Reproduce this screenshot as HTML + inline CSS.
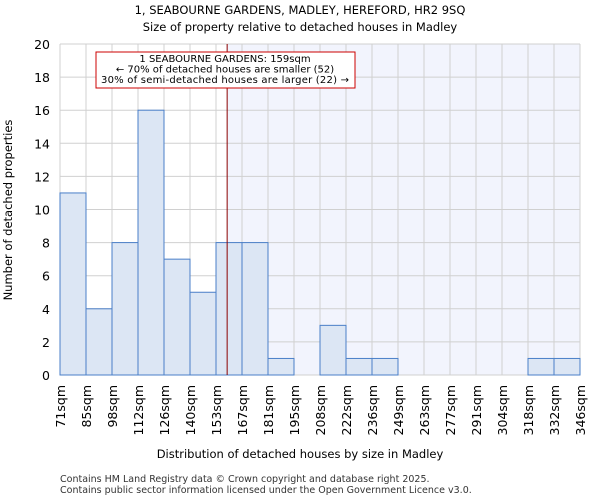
<!DOCTYPE html>
<html><head><meta charset="utf-8"><style>
body{margin:0;background:#fff;font-family:"DejaVu Sans","Liberation Sans",sans-serif;}
</style></head><body>
<svg width="600" height="500" xmlns="http://www.w3.org/2000/svg" font-family="DejaVu Sans, Liberation Sans, sans-serif">
<text x="300" y="14" text-anchor="middle" font-size="11.5">1, SEABOURNE GARDENS, MADLEY, HEREFORD, HR2 9SQ</text>
<text x="300" y="31" text-anchor="middle" font-size="11.5">Size of property relative to detached houses in Madley</text>
<g id="plot"></g>
<text x="300" y="458" text-anchor="middle" font-size="11.5">Distribution of detached houses by size in Madley</text>
<text x="12" y="210" text-anchor="middle" font-size="11.5" transform="rotate(-90 12 210)">Number of detached properties</text>
<text x="60" y="482" font-size="9.5" fill="#333">Contains HM Land Registry data © Crown copyright and database right 2025.</text>
<text x="60" y="493" font-size="9.5" fill="#333">Contains public sector information licensed under the Open Government Licence v3.0.</text>
</svg>
<script>
const edges=[71,85,98,112,126,140,153,167,181,195,208,222,236,249,263,277,291,304,318,332,346];
const counts=[11,4,8,16,7,5,8,8,1,0,3,1,1,0,0,0,0,0,1,1];
const yTicks=[0,2,4,6,8,10,12,14,16,18,20];
const markerValue=159;
const NS="http://www.w3.org/2000/svg";
const X0=60,X1=580,Y0=375,Y1=44;
const bw=(X1-X0)/counts.length;
function xi(i){return X0+i*bw;}
function xv(v){for(let i=0;i<edges.length-1;i++){if(v>=edges[i]&&v<=edges[i+1])return xi(i)+bw*(v-edges[i])/(edges[i+1]-edges[i]);}return X1;}
function y(v){return Y0-(Y0-Y1)*v/20;}
const g=document.getElementById('plot');
function mk(t,a){const e=document.createElementNS(NS,t);for(const k in a)e.setAttribute(k,a[k]);g.appendChild(e);return e;}
const mx=xv(markerValue);
let e=mk('rect',{x:mx,y:Y1,width:X1-mx,height:Y0-Y1,fill:'#f2f4fd'});


yTicks.forEach(t=>{
 let l=mk('line',{x1:X0,x2:X1,y1:y(t),y2:y(t),stroke:'#d0d0d0','stroke-width':1});
 
 
 let tx=mk('text',{x:X0-10,y:y(t)+5,'text-anchor':'end','font-size':12.5});
 tx.textContent=t;
 
 
});
edges.forEach((v,i)=>{
 let l=mk('line',{x1:xi(i),x2:xi(i),y1:Y1,y2:Y0,stroke:'#d0d0d0','stroke-width':1});
 
 
 let tx=mk('text',{x:xi(i)+5,y:Y0+10,'text-anchor':'end','font-size':12.5,transform:`rotate(-90 ${xi(i)+5} ${Y0+10})`});
 tx.textContent=v+'sqm';
 
 
});
counts.forEach((c,i)=>{
 if(c<=0)return;
 let r=mk('rect',{x:xi(i),y:y(c),width:bw,height:Y0-y(c),fill:'#dce6f4',stroke:'#4a7fc8','stroke-width':1});
 
 
});
e=mk('line',{x1:mx,x2:mx,y1:Y1,y2:Y0,stroke:'#8b0000','stroke-width':1});


e=mk('rect',{x:96,y:52,width:259,height:36,fill:'#fff',stroke:'#cc0000','stroke-width':1});


["1 SEABOURNE GARDENS: 159sqm","← 70% of detached houses are smaller (52)","30% of semi-detached houses are larger (22) →"].forEach((s,i)=>{
 let t=mk('text',{x:225,y:62+i*10.5,'text-anchor':'middle','font-size':10,textLength:i==2?248:null});
 if(i!=2)t.removeAttribute('textLength');
 t.textContent=s;
 
 
});
</script>
</body></html>
